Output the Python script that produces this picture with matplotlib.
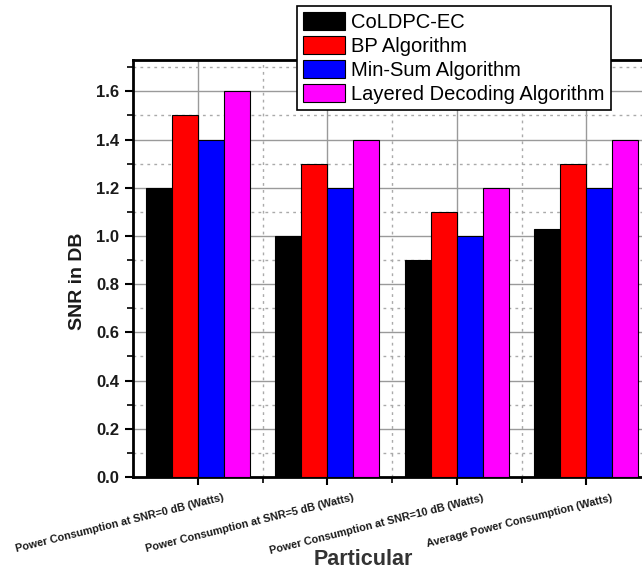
import matplotlib
matplotlib.use("Agg")
import matplotlib.pyplot as plt
from matplotlib.ticker import MultipleLocator, FixedLocator
from matplotlib.transforms import ScaledTranslation
import numpy as np

plt.rcParams['font.family'] = ['Liberation Sans', 'DejaVu Sans']

categories = ["Power Consumption at SNR=0 dB (Watts)",
              "Power Consumption at SNR=5 dB (Watts)",
              "Power Consumption at SNR=10 dB (Watts)",
              "Average Power Consumption (Watts)"]
series_names = ["CoLDPC-EC", "BP Algorithm", "Min-Sum Algorithm",
                "Layered Decoding Algorithm"]
coldpc = [1.2, 1.0, 0.9, 1.03]
bp = [1.5, 1.3, 1.1, 1.3]
minsum = [1.4, 1.2, 1.0, 1.2]
layered = [1.6, 1.4, 1.2, 1.4]
colors = ["#000000", "#FF0000", "#0000FF", "#FF00FF"]

W, H = 642, 570
fig = plt.figure(figsize=(W / 100, H / 100), dpi=100)
ax = fig.add_axes([133 / W, 93 / H, 518 / W, 417 / H])

x = np.arange(1, len(categories) + 1)
bw = 0.2
offsets = [-0.3, -0.1, 0.1, 0.3]
for vals, name, c, off in zip([coldpc, bp, minsum, layered], series_names, colors, offsets):
    ax.bar(x + off, vals, width=bw, color=c, edgecolor="black", linewidth=0.8,
           label=name, zorder=3)

ax.set_xlim(0.5, 4.5)
ax.set_ylim(0, 1.73)

ax.yaxis.set_major_locator(MultipleLocator(0.2))
ax.yaxis.set_minor_locator(MultipleLocator(0.1))
ax.xaxis.set_major_locator(FixedLocator(x))
ax.xaxis.set_minor_locator(FixedLocator(x[:-1] + 0.5))

ax.grid(which="major", color="#9a9a9a", linestyle="-", linewidth=1.0, zorder=0)
ax.grid(which="minor", color="#aaaaaa", linestyle=(0, (2, 3)), linewidth=1.0, zorder=0)
ax.set_axisbelow(True)

ax.tick_params(axis="both", which="major", direction="out", length=6, width=1.5, pad=4)
ax.tick_params(axis="both", which="minor", direction="out", length=4, width=1.2)
ax.tick_params(axis="y", right=False)

ax.set_yticks(np.round(np.arange(0, 1.61, 0.2), 1))
ax.set_yticklabels([f"{v:.1f}" for v in np.arange(0, 1.61, 0.2)])
for lab in ax.get_yticklabels():
    lab.set_fontweight("bold")
    lab.set_fontsize(12)
    lab.set_color("#1a1a1a")

ax.set_xticks(x)
ax.set_xticklabels(categories, rotation=14, ha="right", va="top",
                   rotation_mode="anchor", fontsize=7.8, fontweight="bold",
                   color="#1a1a1a")
off = ScaledTranslation(25 / 100, -2 / 100, fig.dpi_scale_trans)
for lab in ax.get_xticklabels():
    lab.set_transform(lab.get_transform() + off)

for side in ["left", "bottom", "top", "right"]:
    ax.spines[side].set_linewidth(2)
    ax.spines[side].set_color("black")

ax.set_ylabel("SNR in DB", fontsize=14, fontweight="bold", color="#1a1a1a")
ax.yaxis.set_label_coords(-0.09, 0.47)
ax.set_xlabel("Particular", fontsize=15.5, fontweight="bold", color="#333333")
ax.xaxis.set_label_coords(0.444, -0.172)

leg = ax.legend(loc="upper left", bbox_to_anchor=(297 / W, 1 - 6 / H),
                bbox_transform=fig.transFigure, borderaxespad=0,
                fontsize=14.5, frameon=True, fancybox=False, framealpha=1,
                edgecolor="black", handlelength=2.1, handleheight=1.0,
                labelspacing=0.2, handletextpad=0.3, borderpad=0.3)
leg.get_frame().set_linewidth(1.2)
leg.set_zorder(10)

fig.savefig("out.png", dpi=100)
